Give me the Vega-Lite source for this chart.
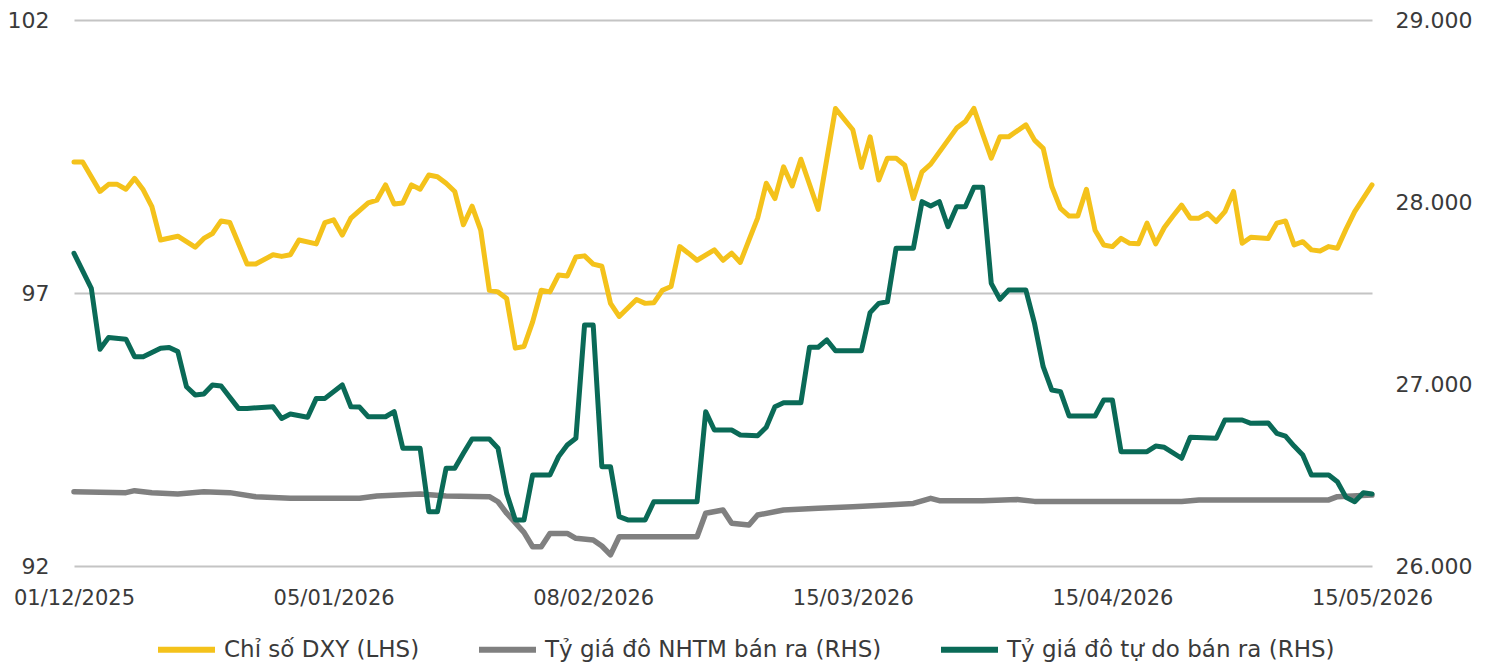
{
  "$schema": "https://vega.github.io/schema/vega-lite/v6.json",
  "width": 1298,
  "height": 546,
  "autosize": {"type": "none"},
  "padding": {"left": 74, "top": 20, "right": 114, "bottom": 100},
  "background": "white",
  "config": {
    "view": {"stroke": null},
    "axis": {"labelFont": "DejaVu Sans", "labelColor": "#3a3a3a", "title": null, "ticks": false, "tickSize": 0, "domain": false},
    "legend": {"labelFont": "DejaVu Sans", "labelFontSize": 23, "labelColor": "#3a3a3a", "labelLimit": 500, "symbolType": "stroke", "symbolSize": 3249, "symbolStrokeWidth": 6, "labelOffset": 6, "columnPadding": 47, "padding": 0, "direction": "horizontal", "orient": "none", "legendX": 81, "legendY": 598, "title": null}
  },
  "data": {
    "values": [
      {"i": 0, "s": "Chỉ số DXY (LHS)", "v": 99.40},
      {"i": 1, "s": "Chỉ số DXY (LHS)", "v": 99.40},
      {"i": 3, "s": "Chỉ số DXY (LHS)", "v": 98.86},
      {"i": 4, "s": "Chỉ số DXY (LHS)", "v": 98.99},
      {"i": 5, "s": "Chỉ số DXY (LHS)", "v": 98.99},
      {"i": 6, "s": "Chỉ số DXY (LHS)", "v": 98.90},
      {"i": 7, "s": "Chỉ số DXY (LHS)", "v": 99.10},
      {"i": 8, "s": "Chỉ số DXY (LHS)", "v": 98.89},
      {"i": 9, "s": "Chỉ số DXY (LHS)", "v": 98.58},
      {"i": 10, "s": "Chỉ số DXY (LHS)", "v": 97.97},
      {"i": 12, "s": "Chỉ số DXY (LHS)", "v": 98.04},
      {"i": 14, "s": "Chỉ số DXY (LHS)", "v": 97.84},
      {"i": 15, "s": "Chỉ số DXY (LHS)", "v": 98.00},
      {"i": 16, "s": "Chỉ số DXY (LHS)", "v": 98.09},
      {"i": 17, "s": "Chỉ số DXY (LHS)", "v": 98.32},
      {"i": 18, "s": "Chỉ số DXY (LHS)", "v": 98.29},
      {"i": 20, "s": "Chỉ số DXY (LHS)", "v": 97.53},
      {"i": 21, "s": "Chỉ số DXY (LHS)", "v": 97.53},
      {"i": 23, "s": "Chỉ số DXY (LHS)", "v": 97.70},
      {"i": 24, "s": "Chỉ số DXY (LHS)", "v": 97.67},
      {"i": 25, "s": "Chỉ số DXY (LHS)", "v": 97.70},
      {"i": 26, "s": "Chỉ số DXY (LHS)", "v": 97.97},
      {"i": 28, "s": "Chỉ số DXY (LHS)", "v": 97.90},
      {"i": 29, "s": "Chỉ số DXY (LHS)", "v": 98.29},
      {"i": 30, "s": "Chỉ số DXY (LHS)", "v": 98.34},
      {"i": 31, "s": "Chỉ số DXY (LHS)", "v": 98.06},
      {"i": 32, "s": "Chỉ số DXY (LHS)", "v": 98.37},
      {"i": 34, "s": "Chỉ số DXY (LHS)", "v": 98.65},
      {"i": 35, "s": "Chỉ số DXY (LHS)", "v": 98.70},
      {"i": 36, "s": "Chỉ số DXY (LHS)", "v": 98.98},
      {"i": 37, "s": "Chỉ số DXY (LHS)", "v": 98.63},
      {"i": 38, "s": "Chỉ số DXY (LHS)", "v": 98.65},
      {"i": 39, "s": "Chỉ số DXY (LHS)", "v": 98.98},
      {"i": 40, "s": "Chỉ số DXY (LHS)", "v": 98.90},
      {"i": 41, "s": "Chỉ số DXY (LHS)", "v": 99.16},
      {"i": 42, "s": "Chỉ số DXY (LHS)", "v": 99.13},
      {"i": 43, "s": "Chỉ số DXY (LHS)", "v": 99.01},
      {"i": 44, "s": "Chỉ số DXY (LHS)", "v": 98.86},
      {"i": 45, "s": "Chỉ số DXY (LHS)", "v": 98.25},
      {"i": 46, "s": "Chỉ số DXY (LHS)", "v": 98.59},
      {"i": 47, "s": "Chỉ số DXY (LHS)", "v": 98.15},
      {"i": 48, "s": "Chỉ số DXY (LHS)", "v": 97.05},
      {"i": 49, "s": "Chỉ số DXY (LHS)", "v": 97.02},
      {"i": 50, "s": "Chỉ số DXY (LHS)", "v": 96.90},
      {"i": 51, "s": "Chỉ số DXY (LHS)", "v": 95.99},
      {"i": 52, "s": "Chỉ số DXY (LHS)", "v": 96.02},
      {"i": 53, "s": "Chỉ số DXY (LHS)", "v": 96.47},
      {"i": 54, "s": "Chỉ số DXY (LHS)", "v": 97.05},
      {"i": 55, "s": "Chỉ số DXY (LHS)", "v": 97.02},
      {"i": 56, "s": "Chỉ số DXY (LHS)", "v": 97.33},
      {"i": 57, "s": "Chỉ số DXY (LHS)", "v": 97.31},
      {"i": 58, "s": "Chỉ số DXY (LHS)", "v": 97.66},
      {"i": 59, "s": "Chỉ số DXY (LHS)", "v": 97.68},
      {"i": 60, "s": "Chỉ số DXY (LHS)", "v": 97.53},
      {"i": 61, "s": "Chỉ số DXY (LHS)", "v": 97.49},
      {"i": 62, "s": "Chỉ số DXY (LHS)", "v": 96.81},
      {"i": 63, "s": "Chỉ số DXY (LHS)", "v": 96.57},
      {"i": 65, "s": "Chỉ số DXY (LHS)", "v": 96.88},
      {"i": 66, "s": "Chỉ số DXY (LHS)", "v": 96.81},
      {"i": 67, "s": "Chỉ số DXY (LHS)", "v": 96.82},
      {"i": 68, "s": "Chỉ số DXY (LHS)", "v": 97.05},
      {"i": 69, "s": "Chỉ số DXY (LHS)", "v": 97.12},
      {"i": 70, "s": "Chỉ số DXY (LHS)", "v": 97.85},
      {"i": 71, "s": "Chỉ số DXY (LHS)", "v": 97.73},
      {"i": 72, "s": "Chỉ số DXY (LHS)", "v": 97.60},
      {"i": 74, "s": "Chỉ số DXY (LHS)", "v": 97.79},
      {"i": 75, "s": "Chỉ số DXY (LHS)", "v": 97.60},
      {"i": 76, "s": "Chỉ số DXY (LHS)", "v": 97.73},
      {"i": 77, "s": "Chỉ số DXY (LHS)", "v": 97.56},
      {"i": 78, "s": "Chỉ số DXY (LHS)", "v": 97.97},
      {"i": 79, "s": "Chỉ số DXY (LHS)", "v": 98.37},
      {"i": 80, "s": "Chỉ số DXY (LHS)", "v": 99.01},
      {"i": 81, "s": "Chỉ số DXY (LHS)", "v": 98.73},
      {"i": 82, "s": "Chỉ số DXY (LHS)", "v": 99.31},
      {"i": 83, "s": "Chỉ số DXY (LHS)", "v": 98.96},
      {"i": 84, "s": "Chỉ số DXY (LHS)", "v": 99.45},
      {"i": 86, "s": "Chỉ số DXY (LHS)", "v": 98.53},
      {"i": 88, "s": "Chỉ số DXY (LHS)", "v": 100.38},
      {"i": 90, "s": "Chỉ số DXY (LHS)", "v": 99.99},
      {"i": 91, "s": "Chỉ số DXY (LHS)", "v": 99.30},
      {"i": 92, "s": "Chỉ số DXY (LHS)", "v": 99.86},
      {"i": 93, "s": "Chỉ số DXY (LHS)", "v": 99.07},
      {"i": 94, "s": "Chỉ số DXY (LHS)", "v": 99.47},
      {"i": 95, "s": "Chỉ số DXY (LHS)", "v": 99.47},
      {"i": 96, "s": "Chỉ số DXY (LHS)", "v": 99.34},
      {"i": 97, "s": "Chỉ số DXY (LHS)", "v": 98.73},
      {"i": 98, "s": "Chỉ số DXY (LHS)", "v": 99.22},
      {"i": 99, "s": "Chỉ số DXY (LHS)", "v": 99.36},
      {"i": 102, "s": "Chỉ số DXY (LHS)", "v": 100.02},
      {"i": 103, "s": "Chỉ số DXY (LHS)", "v": 100.14},
      {"i": 104, "s": "Chỉ số DXY (LHS)", "v": 100.38},
      {"i": 105, "s": "Chỉ số DXY (LHS)", "v": 99.92},
      {"i": 106, "s": "Chỉ số DXY (LHS)", "v": 99.47},
      {"i": 107, "s": "Chỉ số DXY (LHS)", "v": 99.86},
      {"i": 108, "s": "Chỉ số DXY (LHS)", "v": 99.86},
      {"i": 110, "s": "Chỉ số DXY (LHS)", "v": 100.08},
      {"i": 111, "s": "Chỉ số DXY (LHS)", "v": 99.80},
      {"i": 112, "s": "Chỉ số DXY (LHS)", "v": 99.65},
      {"i": 113, "s": "Chỉ số DXY (LHS)", "v": 98.95},
      {"i": 114, "s": "Chỉ số DXY (LHS)", "v": 98.55},
      {"i": 115, "s": "Chỉ số DXY (LHS)", "v": 98.41},
      {"i": 116, "s": "Chỉ số DXY (LHS)", "v": 98.41},
      {"i": 117, "s": "Chỉ số DXY (LHS)", "v": 98.90},
      {"i": 118, "s": "Chỉ số DXY (LHS)", "v": 98.15},
      {"i": 119, "s": "Chỉ số DXY (LHS)", "v": 97.88},
      {"i": 120, "s": "Chỉ số DXY (LHS)", "v": 97.85},
      {"i": 121, "s": "Chỉ số DXY (LHS)", "v": 98.00},
      {"i": 122, "s": "Chỉ số DXY (LHS)", "v": 97.91},
      {"i": 123, "s": "Chỉ số DXY (LHS)", "v": 97.90},
      {"i": 124, "s": "Chỉ số DXY (LHS)", "v": 98.28},
      {"i": 125, "s": "Chỉ số DXY (LHS)", "v": 97.90},
      {"i": 126, "s": "Chỉ số DXY (LHS)", "v": 98.20},
      {"i": 127, "s": "Chỉ số DXY (LHS)", "v": 98.41},
      {"i": 128, "s": "Chỉ số DXY (LHS)", "v": 98.61},
      {"i": 129, "s": "Chỉ số DXY (LHS)", "v": 98.37},
      {"i": 130, "s": "Chỉ số DXY (LHS)", "v": 98.37},
      {"i": 131, "s": "Chỉ số DXY (LHS)", "v": 98.46},
      {"i": 132, "s": "Chỉ số DXY (LHS)", "v": 98.31},
      {"i": 133, "s": "Chỉ số DXY (LHS)", "v": 98.49},
      {"i": 134, "s": "Chỉ số DXY (LHS)", "v": 98.86},
      {"i": 135, "s": "Chỉ số DXY (LHS)", "v": 97.91},
      {"i": 136, "s": "Chỉ số DXY (LHS)", "v": 98.02},
      {"i": 138, "s": "Chỉ số DXY (LHS)", "v": 98.00},
      {"i": 139, "s": "Chỉ số DXY (LHS)", "v": 98.28},
      {"i": 140, "s": "Chỉ số DXY (LHS)", "v": 98.32},
      {"i": 141, "s": "Chỉ số DXY (LHS)", "v": 97.88},
      {"i": 142, "s": "Chỉ số DXY (LHS)", "v": 97.94},
      {"i": 143, "s": "Chỉ số DXY (LHS)", "v": 97.79},
      {"i": 144, "s": "Chỉ số DXY (LHS)", "v": 97.77},
      {"i": 145, "s": "Chỉ số DXY (LHS)", "v": 97.85},
      {"i": 146, "s": "Chỉ số DXY (LHS)", "v": 97.82},
      {"i": 147, "s": "Chỉ số DXY (LHS)", "v": 98.17},
      {"i": 148, "s": "Chỉ số DXY (LHS)", "v": 98.49},
      {"i": 150, "s": "Chỉ số DXY (LHS)", "v": 98.98},

      {"i": 0, "s": "Tỷ giá đô NHTM bán ra (RHS)", "v": 26408},
      {"i": 6, "s": "Tỷ giá đô NHTM bán ra (RHS)", "v": 26403},
      {"i": 7, "s": "Tỷ giá đô NHTM bán ra (RHS)", "v": 26414},
      {"i": 9, "s": "Tỷ giá đô NHTM bán ra (RHS)", "v": 26403},
      {"i": 12, "s": "Tỷ giá đô NHTM bán ra (RHS)", "v": 26396},
      {"i": 15, "s": "Tỷ giá đô NHTM bán ra (RHS)", "v": 26408},
      {"i": 18, "s": "Tỷ giá đô NHTM bán ra (RHS)", "v": 26403},
      {"i": 21, "s": "Tỷ giá đô NHTM bán ra (RHS)", "v": 26381},
      {"i": 25, "s": "Tỷ giá đô NHTM bán ra (RHS)", "v": 26372},
      {"i": 33, "s": "Tỷ giá đô NHTM bán ra (RHS)", "v": 26372},
      {"i": 35, "s": "Tỷ giá đô NHTM bán ra (RHS)", "v": 26385},
      {"i": 40, "s": "Tỷ giá đô NHTM bán ra (RHS)", "v": 26396},
      {"i": 43, "s": "Tỷ giá đô NHTM bán ra (RHS)", "v": 26385},
      {"i": 48, "s": "Tỷ giá đô NHTM bán ra (RHS)", "v": 26381},
      {"i": 49, "s": "Tỷ giá đô NHTM bán ra (RHS)", "v": 26353},
      {"i": 50, "s": "Tỷ giá đô NHTM bán ra (RHS)", "v": 26290},
      {"i": 52, "s": "Tỷ giá đô NHTM bán ra (RHS)", "v": 26185},
      {"i": 53, "s": "Tỷ giá đô NHTM bán ra (RHS)", "v": 26106},
      {"i": 54, "s": "Tỷ giá đô NHTM bán ra (RHS)", "v": 26106},
      {"i": 55, "s": "Tỷ giá đô NHTM bán ra (RHS)", "v": 26179},
      {"i": 57, "s": "Tỷ giá đô NHTM bán ra (RHS)", "v": 26179},
      {"i": 58, "s": "Tỷ giá đô NHTM bán ra (RHS)", "v": 26152},
      {"i": 60, "s": "Tỷ giá đô NHTM bán ra (RHS)", "v": 26143},
      {"i": 61, "s": "Tỷ giá đô NHTM bán ra (RHS)", "v": 26110},
      {"i": 62, "s": "Tỷ giá đô NHTM bán ra (RHS)", "v": 26061},
      {"i": 63, "s": "Tỷ giá đô NHTM bán ra (RHS)", "v": 26161},
      {"i": 72, "s": "Tỷ giá đô NHTM bán ra (RHS)", "v": 26161},
      {"i": 73, "s": "Tỷ giá đô NHTM bán ra (RHS)", "v": 26290},
      {"i": 75, "s": "Tỷ giá đô NHTM bán ra (RHS)", "v": 26308},
      {"i": 76, "s": "Tỷ giá đô NHTM bán ra (RHS)", "v": 26235},
      {"i": 78, "s": "Tỷ giá đô NHTM bán ra (RHS)", "v": 26225},
      {"i": 79, "s": "Tỷ giá đô NHTM bán ra (RHS)", "v": 26280},
      {"i": 82, "s": "Tỷ giá đô NHTM bán ra (RHS)", "v": 26308},
      {"i": 86, "s": "Tỷ giá đô NHTM bán ra (RHS)", "v": 26317},
      {"i": 90, "s": "Tỷ giá đô NHTM bán ra (RHS)", "v": 26326},
      {"i": 94, "s": "Tỷ giá đô NHTM bán ra (RHS)", "v": 26335},
      {"i": 97, "s": "Tỷ giá đô NHTM bán ra (RHS)", "v": 26344},
      {"i": 99, "s": "Tỷ giá đô NHTM bán ra (RHS)", "v": 26372},
      {"i": 100, "s": "Tỷ giá đô NHTM bán ra (RHS)", "v": 26359},
      {"i": 105, "s": "Tỷ giá đô NHTM bán ra (RHS)", "v": 26359},
      {"i": 109, "s": "Tỷ giá đô NHTM bán ra (RHS)", "v": 26365},
      {"i": 111, "s": "Tỷ giá đô NHTM bán ra (RHS)", "v": 26355},
      {"i": 128, "s": "Tỷ giá đô NHTM bán ra (RHS)", "v": 26355},
      {"i": 130, "s": "Tỷ giá đô NHTM bán ra (RHS)", "v": 26363},
      {"i": 145, "s": "Tỷ giá đô NHTM bán ra (RHS)", "v": 26363},
      {"i": 146, "s": "Tỷ giá đô NHTM bán ra (RHS)", "v": 26381},
      {"i": 150, "s": "Tỷ giá đô NHTM bán ra (RHS)", "v": 26390},

      {"i": 0, "s": "Tỷ giá đô tự do bán ra (RHS)", "v": 27718},
      {"i": 2, "s": "Tỷ giá đô tự do bán ra (RHS)", "v": 27526},
      {"i": 3, "s": "Tỷ giá đô tự do bán ra (RHS)", "v": 27191},
      {"i": 4, "s": "Tỷ giá đô tự do bán ra (RHS)", "v": 27256},
      {"i": 6, "s": "Tỷ giá đô tự do bán ra (RHS)", "v": 27246},
      {"i": 7, "s": "Tỷ giá đô tự do bán ra (RHS)", "v": 27150},
      {"i": 8, "s": "Tỷ giá đô tự do bán ra (RHS)", "v": 27150},
      {"i": 10, "s": "Tỷ giá đô tự do bán ra (RHS)", "v": 27196},
      {"i": 11, "s": "Tỷ giá đô tự do bán ra (RHS)", "v": 27201},
      {"i": 12, "s": "Tỷ giá đô tự do bán ra (RHS)", "v": 27178},
      {"i": 13, "s": "Tỷ giá đô tự do bán ra (RHS)", "v": 26985},
      {"i": 14, "s": "Tỷ giá đô tự do bán ra (RHS)", "v": 26940},
      {"i": 15, "s": "Tỷ giá đô tự do bán ra (RHS)", "v": 26945},
      {"i": 16, "s": "Tỷ giá đô tự do bán ra (RHS)", "v": 26995},
      {"i": 17, "s": "Tỷ giá đô tự do bán ra (RHS)", "v": 26989},
      {"i": 19, "s": "Tỷ giá đô tự do bán ra (RHS)", "v": 26866},
      {"i": 20, "s": "Tỷ giá đô tự do bán ra (RHS)", "v": 26866},
      {"i": 23, "s": "Tỷ giá đô tự do bán ra (RHS)", "v": 26875},
      {"i": 24, "s": "Tỷ giá đô tự do bán ra (RHS)", "v": 26811},
      {"i": 25, "s": "Tỷ giá đô tự do bán ra (RHS)", "v": 26835},
      {"i": 27, "s": "Tỷ giá đô tự do bán ra (RHS)", "v": 26817},
      {"i": 28, "s": "Tỷ giá đô tự do bán ra (RHS)", "v": 26921},
      {"i": 29, "s": "Tỷ giá đô tự do bán ra (RHS)", "v": 26921},
      {"i": 31, "s": "Tỷ giá đô tự do bán ra (RHS)", "v": 26995},
      {"i": 32, "s": "Tỷ giá đô tự do bán ra (RHS)", "v": 26875},
      {"i": 33, "s": "Tỷ giá đô tự do bán ra (RHS)", "v": 26873},
      {"i": 34, "s": "Tỷ giá đô tự do bán ra (RHS)", "v": 26820},
      {"i": 36, "s": "Tỷ giá đô tự do bán ra (RHS)", "v": 26820},
      {"i": 37, "s": "Tỷ giá đô tự do bán ra (RHS)", "v": 26848},
      {"i": 38, "s": "Tỷ giá đô tự do bán ra (RHS)", "v": 26647},
      {"i": 40, "s": "Tỷ giá đô tự do bán ra (RHS)", "v": 26647},
      {"i": 41, "s": "Tỷ giá đô tự do bán ra (RHS)", "v": 26298},
      {"i": 42, "s": "Tỷ giá đô tự do bán ra (RHS)", "v": 26298},
      {"i": 43, "s": "Tỷ giá đô tự do bán ra (RHS)", "v": 26537},
      {"i": 44, "s": "Tỷ giá đô tự do bán ra (RHS)", "v": 26537},
      {"i": 45, "s": "Tỷ giá đô tự do bán ra (RHS)", "v": 26619},
      {"i": 46, "s": "Tỷ giá đô tự do bán ra (RHS)", "v": 26698},
      {"i": 48, "s": "Tỷ giá đô tự do bán ra (RHS)", "v": 26698},
      {"i": 49, "s": "Tỷ giá đô tự do bán ra (RHS)", "v": 26647},
      {"i": 50, "s": "Tỷ giá đô tự do bán ra (RHS)", "v": 26399},
      {"i": 51, "s": "Tỷ giá đô tự do bán ra (RHS)", "v": 26253},
      {"i": 52, "s": "Tỷ giá đô tự do bán ra (RHS)", "v": 26253},
      {"i": 53, "s": "Tỷ giá đô tự do bán ra (RHS)", "v": 26500},
      {"i": 55, "s": "Tỷ giá đô tự do bán ra (RHS)", "v": 26500},
      {"i": 56, "s": "Tỷ giá đô tự do bán ra (RHS)", "v": 26601},
      {"i": 57, "s": "Tỷ giá đô tự do bán ra (RHS)", "v": 26665},
      {"i": 58, "s": "Tỷ giá đô tự do bán ra (RHS)", "v": 26702},
      {"i": 59, "s": "Tỷ giá đô tự do bán ra (RHS)", "v": 27324},
      {"i": 60, "s": "Tỷ giá đô tự do bán ra (RHS)", "v": 27324},
      {"i": 61, "s": "Tỷ giá đô tự do bán ra (RHS)", "v": 26546},
      {"i": 62, "s": "Tỷ giá đô tự do bán ra (RHS)", "v": 26546},
      {"i": 63, "s": "Tỷ giá đô tự do bán ra (RHS)", "v": 26271},
      {"i": 64, "s": "Tỷ giá đô tự do bán ra (RHS)", "v": 26253},
      {"i": 66, "s": "Tỷ giá đô tự do bán ra (RHS)", "v": 26253},
      {"i": 67, "s": "Tỷ giá đô tự do bán ra (RHS)", "v": 26353},
      {"i": 72, "s": "Tỷ giá đô tự do bán ra (RHS)", "v": 26353},
      {"i": 73, "s": "Tỷ giá đô tự do bán ra (RHS)", "v": 26848},
      {"i": 74, "s": "Tỷ giá đô tự do bán ra (RHS)", "v": 26747},
      {"i": 76, "s": "Tỷ giá đô tự do bán ra (RHS)", "v": 26747},
      {"i": 77, "s": "Tỷ giá đô tự do bán ra (RHS)", "v": 26720},
      {"i": 79, "s": "Tỷ giá đô tự do bán ra (RHS)", "v": 26716},
      {"i": 80, "s": "Tỷ giá đô tự do bán ra (RHS)", "v": 26762},
      {"i": 81, "s": "Tỷ giá đô tự do bán ra (RHS)", "v": 26875},
      {"i": 82, "s": "Tỷ giá đô tự do bán ra (RHS)", "v": 26897},
      {"i": 84, "s": "Tỷ giá đô tự do bán ra (RHS)", "v": 26897},
      {"i": 85, "s": "Tỷ giá đô tự do bán ra (RHS)", "v": 27202},
      {"i": 86, "s": "Tỷ giá đô tự do bán ra (RHS)", "v": 27202},
      {"i": 87, "s": "Tỷ giá đô tự do bán ra (RHS)", "v": 27242},
      {"i": 88, "s": "Tỷ giá đô tự do bán ra (RHS)", "v": 27183},
      {"i": 91, "s": "Tỷ giá đô tự do bán ra (RHS)", "v": 27183},
      {"i": 92, "s": "Tỷ giá đô tự do bán ra (RHS)", "v": 27392},
      {"i": 93, "s": "Tỷ giá đô tự do bán ra (RHS)", "v": 27443},
      {"i": 94, "s": "Tỷ giá đô tự do bán ra (RHS)", "v": 27452},
      {"i": 95, "s": "Tỷ giá đô tự do bán ra (RHS)", "v": 27746},
      {"i": 97, "s": "Tỷ giá đô tự do bán ra (RHS)", "v": 27746},
      {"i": 98, "s": "Tỷ giá đô tự do bán ra (RHS)", "v": 28002},
      {"i": 99, "s": "Tỷ giá đô tự do bán ra (RHS)", "v": 27978},
      {"i": 100, "s": "Tỷ giá đô tự do bán ra (RHS)", "v": 28002},
      {"i": 101, "s": "Tỷ giá đô tự do bán ra (RHS)", "v": 27864},
      {"i": 102, "s": "Tỷ giá đô tự do bán ra (RHS)", "v": 27974},
      {"i": 103, "s": "Tỷ giá đô tự do bán ra (RHS)", "v": 27974},
      {"i": 104, "s": "Tỷ giá đô tự do bán ra (RHS)", "v": 28081},
      {"i": 105, "s": "Tỷ giá đô tự do bán ra (RHS)", "v": 28081},
      {"i": 106, "s": "Tỷ giá đô tự do bán ra (RHS)", "v": 27553},
      {"i": 107, "s": "Tỷ giá đô tự do bán ra (RHS)", "v": 27465},
      {"i": 108, "s": "Tỷ giá đô tự do bán ra (RHS)", "v": 27516},
      {"i": 110, "s": "Tỷ giá đô tự do bán ra (RHS)", "v": 27516},
      {"i": 111, "s": "Tỷ giá đô tự do bán ra (RHS)", "v": 27333},
      {"i": 112, "s": "Tỷ giá đô tự do bán ra (RHS)", "v": 27095},
      {"i": 113, "s": "Tỷ giá đô tự do bán ra (RHS)", "v": 26967},
      {"i": 114, "s": "Tỷ giá đô tự do bán ra (RHS)", "v": 26958},
      {"i": 115, "s": "Tỷ giá đô tự do bán ra (RHS)", "v": 26824},
      {"i": 118, "s": "Tỷ giá đô tự do bán ra (RHS)", "v": 26824},
      {"i": 119, "s": "Tỷ giá đô tự do bán ra (RHS)", "v": 26912},
      {"i": 120, "s": "Tỷ giá đô tự do bán ra (RHS)", "v": 26912},
      {"i": 121, "s": "Tỷ giá đô tự do bán ra (RHS)", "v": 26628},
      {"i": 124, "s": "Tỷ giá đô tự do bán ra (RHS)", "v": 26628},
      {"i": 125, "s": "Tỷ giá đô tự do bán ra (RHS)", "v": 26659},
      {"i": 126, "s": "Tỷ giá đô tự do bán ra (RHS)", "v": 26652},
      {"i": 128, "s": "Tỷ giá đô tự do bán ra (RHS)", "v": 26592},
      {"i": 129, "s": "Tỷ giá đô tự do bán ra (RHS)", "v": 26707},
      {"i": 132, "s": "Tỷ giá đô tự do bán ra (RHS)", "v": 26702},
      {"i": 133, "s": "Tỷ giá đô tự do bán ra (RHS)", "v": 26802},
      {"i": 135, "s": "Tỷ giá đô tự do bán ra (RHS)", "v": 26802},
      {"i": 136, "s": "Tỷ giá đô tự do bán ra (RHS)", "v": 26784},
      {"i": 138, "s": "Tỷ giá đô tự do bán ra (RHS)", "v": 26786},
      {"i": 139, "s": "Tỷ giá đô tự do bán ra (RHS)", "v": 26729},
      {"i": 140, "s": "Tỷ giá đô tự do bán ra (RHS)", "v": 26714},
      {"i": 141, "s": "Tỷ giá đô tự do bán ra (RHS)", "v": 26659},
      {"i": 142, "s": "Tỷ giá đô tự do bán ra (RHS)", "v": 26610},
      {"i": 143, "s": "Tỷ giá đô tự do bán ra (RHS)", "v": 26500},
      {"i": 145, "s": "Tỷ giá đô tự do bán ra (RHS)", "v": 26500},
      {"i": 146, "s": "Tỷ giá đô tự do bán ra (RHS)", "v": 26463},
      {"i": 147, "s": "Tỷ giá đô tự do bán ra (RHS)", "v": 26377},
      {"i": 148, "s": "Tỷ giá đô tự do bán ra (RHS)", "v": 26353},
      {"i": 149, "s": "Tỷ giá đô tự do bán ra (RHS)", "v": 26403},
      {"i": 150, "s": "Tỷ giá đô tự do bán ra (RHS)", "v": 26396}
    ]
  },
  "encoding": {
    "x": {
      "field": "i",
      "type": "quantitative",
      "scale": {"domain": [0, 150], "nice": false, "zero": false},
      "axis": {
        "values": [0, 30, 60, 90, 120, 150],
        "labelExpr": "datum.value == 0 ? '01/12/2025' : datum.value == 30 ? '05/01/2026' : datum.value == 60 ? '08/02/2026' : datum.value == 90 ? '15/03/2026' : datum.value == 120 ? '15/04/2026' : '15/05/2026'",
        "labelFontSize": 21,
        "labelPadding": 21,
        "grid": false,
        "labelFlush": false,
        "labelOverlap": false,
        "labelBound": false
      }
    },
    "color": {
      "field": "s",
      "type": "nominal",
      "scale": {
        "domain": ["Chỉ số DXY (LHS)", "Tỷ giá đô NHTM bán ra (RHS)", "Tỷ giá đô tự do bán ra (RHS)"],
        "range": ["#F4C21B", "#808080", "#0A6A57"]
      }
    }
  },
  "layer": [
    {
      "transform": [{"filter": "datum.s == 'Chỉ số DXY (LHS)'"}],
      "mark": {"type": "line", "strokeWidth": 5, "strokeJoin": "round", "strokeCap": "round"},
      "encoding": {
        "y": {
          "field": "v",
          "type": "quantitative",
          "scale": {"domain": [92, 102], "nice": false, "zero": false},
          "axis": {"orient": "left", "values": [92, 97, 102], "grid": true, "gridColor": "#c4c4c4", "gridWidth": 2, "labelFontSize": 22, "labelPadding": 25}
        }
      }
    },
    {
      "layer": [
        {
          "transform": [{"filter": "datum.s == 'Tỷ giá đô NHTM bán ra (RHS)'"}],
          "mark": {"type": "line", "strokeWidth": 5.5, "strokeJoin": "round", "strokeCap": "round"},
          "encoding": {}
        },
        {
          "transform": [{"filter": "datum.s == 'Tỷ giá đô tự do bán ra (RHS)'"}],
          "mark": {"type": "line", "strokeWidth": 5, "strokeJoin": "round", "strokeCap": "round"},
          "encoding": {}
        }
      ],
      "encoding": {
        "y": {
          "field": "v",
          "type": "quantitative",
          "scale": {"domain": [26000, 29000], "nice": false, "zero": false},
          "axis": {"orient": "right", "values": [26000, 27000, 28000, 29000], "grid": false, "labelFontSize": 22, "labelPadding": 23, "labelExpr": "replace(format(datum.value, ','), ',', '.')"}
        }
      }
    }
  ],
  "resolve": {"scale": {"y": "independent"}}
}
